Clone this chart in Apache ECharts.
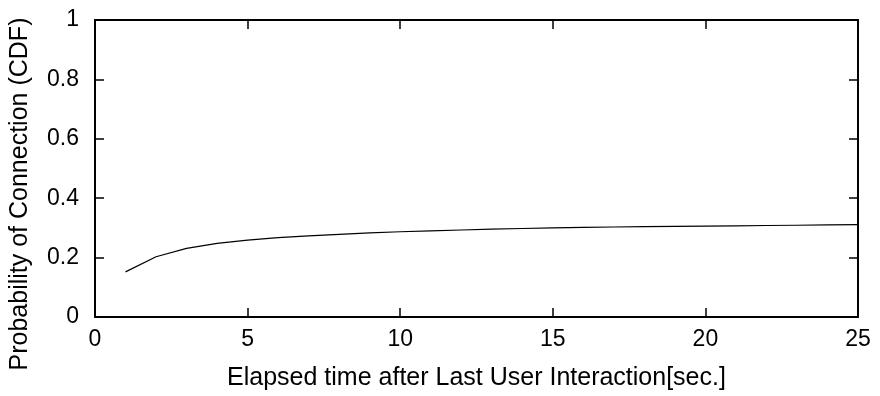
<!DOCTYPE html>
<html>
<head>
<meta charset="utf-8">
<script src="https://cdn.jsdelivr.net/npm/echarts@6/dist/echarts.min.js"></script>
<style>
  html, body { margin: 0; padding: 0; background: #fff; }
  #chart { width: 880px; height: 396px; }
</style>
</head>
<body>
<div id="chart"></div>
<script>
// Elapsed seconds since the last user interaction
const elapsedSec = [1, 2, 3, 4, 5, 6, 7, 8, 9, 10, 11, 12, 13, 14, 15, 16, 17, 18, 19, 20, 21, 22, 23, 24, 25];
// Cumulative probability of a connection at each elapsed time
const connectionCdf = [0.152, 0.203, 0.231, 0.248, 0.259, 0.267, 0.273, 0.278, 0.283, 0.287,
  0.290, 0.293, 0.296, 0.298, 0.300, 0.302, 0.303, 0.304, 0.305, 0.306,
  0.307, 0.308, 0.309, 0.310, 0.311];
const xTicks = [0, 5, 10, 15, 20, 25];
const yTicks = [0, 0.2, 0.4, 0.6, 0.8, 1];

const font = 'Liberation Sans, Arial, sans-serif';
const chart = echarts.init(document.getElementById('chart'));

const axisLineStyle = { show: true, onZero: false, lineStyle: { color: '#000', width: 2 } };
const tickStyle = { show: true, inside: true, length: 9, lineStyle: { color: '#000', width: 1.5 } };

chart.setOption({
  animation: false,
  backgroundColor: '#fff',
  grid: { left: 95, right: 22, top: 20, bottom: 79, containLabel: false },
  xAxis: [{
    type: 'value',
    min: xTicks[0], max: xTicks[xTicks.length - 1], interval: 5,
    name: 'Elapsed time after Last User Interaction[sec.]',
    nameLocation: 'middle', nameGap: 49,
    nameTextStyle: { fontFamily: font, fontSize: 25, color: '#000' },
    axisLine: axisLineStyle, axisTick: tickStyle,
    axisLabel: { fontFamily: font, fontSize: 23, color: '#000', margin: 11,
      formatter: v => xTicks.includes(v) ? String(v) : '' },
    splitLine: { show: false }
  }, {
    type: 'value', position: 'top',
    min: xTicks[0], max: xTicks[xTicks.length - 1], interval: 5,
    axisLine: axisLineStyle, axisTick: tickStyle,
    axisLabel: { show: false }, splitLine: { show: false }
  }],
  yAxis: [{
    type: 'value',
    min: yTicks[0], max: yTicks[yTicks.length - 1], interval: 0.2,
    name: 'Probability of Connection (CDF)',
    nameLocation: 'middle', nameGap: 62,
    nameTextStyle: { fontFamily: font, fontSize: 25, color: '#000', padding: [0, 51, 0, 0] },
    axisLine: axisLineStyle, axisTick: tickStyle,
    axisLabel: { fontFamily: font, fontSize: 23, color: '#000', margin: 16,
      formatter: v => String(Math.round(v * 10) / 10) },
    splitLine: { show: false }
  }, {
    type: 'value', position: 'right',
    min: yTicks[0], max: yTicks[yTicks.length - 1], interval: 0.2,
    axisLine: axisLineStyle, axisTick: tickStyle,
    axisLabel: { show: false }, splitLine: { show: false }
  }],
  series: [{
    type: 'line',
    xAxisIndex: 0, yAxisIndex: 0,
    data: elapsedSec.map((t, i) => [t, connectionCdf[i]]),
    showSymbol: false,
    lineStyle: { color: '#000', width: 1.2 }
  }]
});
</script>
</body>
</html>
